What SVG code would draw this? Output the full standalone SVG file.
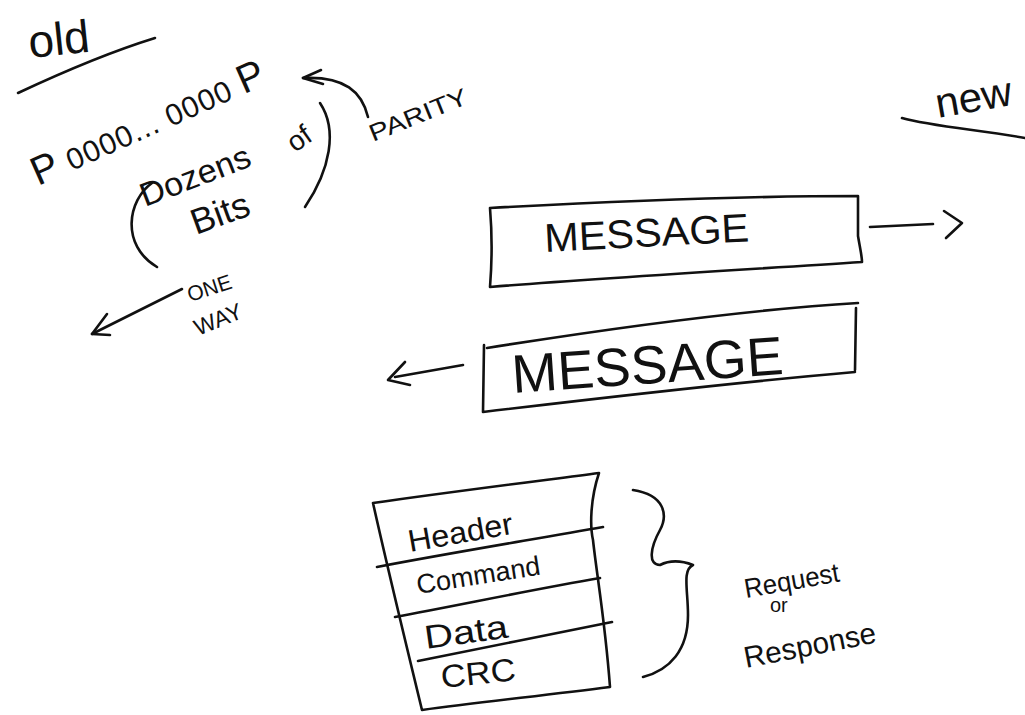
<svg xmlns="http://www.w3.org/2000/svg" width="1025" height="715" viewBox="0 0 1025 715">
  <style>
    .ink { fill: none; stroke: #111; stroke-width: 2.6; stroke-linecap: round; stroke-linejoin: round; }
    .hand { font-family: "Liberation Sans", "DejaVu Sans", sans-serif; fill: #111; }
  </style>
  <rect width="1025" height="715" fill="#ffffff"/>

  <!-- heading: old -->
  <g id="old-label">
    <text class="hand" x="30" y="58" font-size="46" transform="rotate(-6 30 58)">old</text>
    <path class="ink" d="M18,93 C50,78 100,55 155,38"/>
  </g>

  <!-- parity-framed bit string -->
  <g id="bit-string">
    <text class="hand" x="38" y="186" font-size="30" textLength="252" lengthAdjust="spacing" transform="rotate(-24 38 186)"><tspan font-size="40">P</tspan> 0000... 0000 <tspan font-size="40">P</tspan></text>
    <path class="ink" d="M152,183 C128,200 120,245 157,267"/>
    <path class="ink" d="M320,103 C338,130 330,170 305,207"/>
    <text class="hand" x="145" y="207" font-size="33" textLength="116" lengthAdjust="spacingAndGlyphs" transform="rotate(-21 145 207)">Dozens</text>
    <text class="hand" x="295" y="153" font-size="28" transform="rotate(-35 295 153)">of</text>
    <text class="hand" x="196" y="235" font-size="36" transform="rotate(-20 196 235)">Bits</text>
  </g>

  <g id="parity-label">
    <text class="hand" x="373" y="142" font-size="24" textLength="104" lengthAdjust="spacingAndGlyphs" transform="rotate(-22 373 142)">PARITY</text>
  </g>

  <g id="one-way-label">
    <text class="hand" x="190" y="302" font-size="21" transform="rotate(-18 190 302)">ONE</text>
    <text class="hand" x="198" y="336" font-size="23" transform="rotate(-22 198 336)">WAY</text>
  </g>

  <!-- heading: new -->
  <g id="new-label">
    <text class="hand" x="938" y="118" font-size="42" transform="rotate(-10 938 118)">new</text>
    <path class="ink" d="M902,118 C930,126 980,130 1025,138"/>
  </g>

  <!-- outgoing message -->
  <g id="message-out">
    <path class="ink" d="M490,208 C600,202 740,196 858,196 L858,236 C860,248 862,256 862,262 C740,270 600,278 490,287 C492,262 492,232 490,208 Z"/>
    <text class="hand" x="545" y="252" font-size="40" textLength="205" lengthAdjust="spacingAndGlyphs" transform="rotate(-3 545 252)">MESSAGE</text>
  </g>

  <!-- incoming message -->
  <g id="message-in">
    <path class="ink" d="M487,348 C600,330 740,310 858,303"/>
    <path class="ink" d="M856,308 L855,370"/>
    <path class="ink" d="M855,372 C740,382 600,398 483,412 L484,345"/>
    <text class="hand" x="513" y="393" font-size="54" textLength="272" lengthAdjust="spacingAndGlyphs" transform="rotate(-4 513 393)">MESSAGE</text>
  </g>

  <!-- message frame layout -->
  <g id="frame">
    <path class="ink" d="M373,503 C450,492 530,482 599,473 C590,500 590,527 593,540 C597,577 605,620 610,687 C540,696 480,702 422,710 C405,640 388,570 373,503 Z"/>
    <path class="ink" d="M377,567 C450,553 530,540 603,527"/>
    <path class="ink" d="M395,617 C460,605 530,590 600,578"/>
    <path class="ink" d="M418,661 C480,648 550,635 612,622"/>
    <text class="hand" x="410" y="552" font-size="31" textLength="106" lengthAdjust="spacingAndGlyphs" transform="rotate(-10 410 552)">Header</text>
    <text class="hand" x="418" y="594" font-size="27" textLength="125" lengthAdjust="spacingAndGlyphs" transform="rotate(-9 418 594)">Command</text>
    <text class="hand" x="426" y="649" font-size="33" textLength="84" lengthAdjust="spacingAndGlyphs" transform="rotate(-8 426 649)">Data</text>
    <text class="hand" x="442" y="688" font-size="32" textLength="75" lengthAdjust="spacingAndGlyphs" transform="rotate(-6 442 688)">CRC</text>
  </g>

  <g id="request-response">
    <path class="ink" d="M633,490 C665,495 668,515 660,530 C650,548 648,565 660,565 C670,560 680,560 693,565 C682,570 688,590 688,615 C688,650 670,670 643,677"/>
    <text class="hand" x="746" y="598" font-size="27" textLength="96" lengthAdjust="spacingAndGlyphs" transform="rotate(-10 746 598)">Request</text>
    <text class="hand" x="770" y="612" font-size="20">or</text>
    <text class="hand" x="746" y="668" font-size="30" textLength="134" lengthAdjust="spacingAndGlyphs" transform="rotate(-11 746 668)">Response</text>
  </g>

  <!-- connectors -->
  <g id="connectors">
    <!-- parity pointer -->
    <path class="ink" d="M368,117 C362,92 345,76 303,78"/>
    <path class="ink" d="M321,70 L303,78 L323,84"/>
    <!-- one-way direction -->
    <path class="ink" d="M182,289 L92,334"/>
    <path class="ink" d="M107,314 L92,334 L110,335"/>
    <!-- outbound -->
    <path class="ink" d="M870,227 L933,224"/>
    <path class="ink" d="M944,211 L962,223 L946,238"/>
    <!-- inbound -->
    <path class="ink" d="M463,365 L395,377"/>
    <path class="ink" d="M405,362 L388,380 L410,385"/>
  </g>
</svg>
